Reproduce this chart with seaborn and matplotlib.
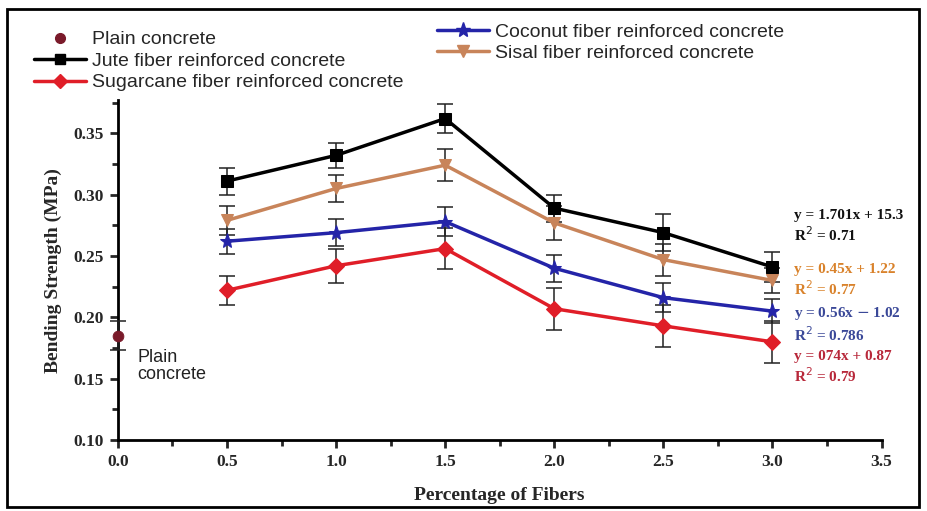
import numpy as np
import pandas as pd
import seaborn as sns
import matplotlib
matplotlib.use("Agg")
import matplotlib.pyplot as plt
from matplotlib.patches import Rectangle
from matplotlib.ticker import MultipleLocator
from matplotlib.lines import Line2D

fibers = [0.5, 1.0, 1.5, 2.0, 2.5, 3.0]
jute = [0.311, 0.332, 0.362, 0.289, 0.269, 0.241]
jute_err = [0.011, 0.010, 0.012, 0.011, 0.015, 0.012]
sisal = [0.279, 0.305, 0.324, 0.277, 0.247, 0.230]
sisal_err = [0.012, 0.011, 0.013, 0.014, 0.013, 0.010]
coconut = [0.262, 0.269, 0.278, 0.240, 0.216, 0.205]
coconut_err = [0.010, 0.011, 0.012, 0.011, 0.012, 0.010]
sugarcane = [0.222, 0.242, 0.256, 0.207, 0.193, 0.180]
sugarcane_err = [0.012, 0.014, 0.017, 0.017, 0.017, 0.017]
plain_x = [0.0]
plain = [0.185]
plain_err = [0.012]
x_ticks = [0.0, 0.5, 1.0, 1.5, 2.0, 2.5, 3.0, 3.5]
y_ticks = [0.10, 0.15, 0.20, 0.25, 0.30, 0.35]

names = ["Jute fiber reinforced concrete", "Sisal fiber reinforced concrete",
         "Coconut fiber reinforced concrete", "Sugarcane fiber reinforced concrete"]
values = [jute, sisal, coconut, sugarcane]
errors = [jute_err, sisal_err, coconut_err, sugarcane_err]
colors = ["#000000", "#c8845a", "#2424a8", "#e01e28"]
markers = ["s", "v", "*", "D"]
msizes = [9, 9, 11, 8]

rows = []
for n, v in zip(names, values):
    for x, y in zip(fibers, v):
        rows.append({"fiber": x, "strength": y, "series": n})
df = pd.DataFrame(rows)

sns.set_style("white")
plt.rcParams["font.family"] = ["DejaVu Sans"]

fig = plt.figure(figsize=(9.28, 5.11), dpi=100)
ax = fig.add_axes([0.127, 0.139, 0.823, 0.665])

for n, c, m, ms, e, v in reversed(list(zip(names, colors, markers, msizes, errors, values))):
    ax.errorbar(fibers, v, yerr=e, fmt="none", ecolor="#222222", elinewidth=1.1,
                capsize=6, capthick=1.1, zorder=2)
    sns.lineplot(data=df[df.series == n], x="fiber", y="strength", color=c,
                 marker=m, markersize=ms, markeredgecolor=c, linewidth=2.5,
                 ax=ax, zorder=3, legend=False)

ax.errorbar(plain_x, plain, yerr=plain_err, fmt="none", ecolor="#222222",
            elinewidth=1.1, capsize=6, capthick=1.1, zorder=4, clip_on=False)
sns.scatterplot(x=plain_x, y=plain, color="#7a1a2a", s=60, marker="o",
                edgecolor="#7a1a2a", ax=ax, zorder=5, legend=False, clip_on=False)

ax.set_xlim(0, 3.5)
ax.set_ylim(0.10, 0.377)
ax.set_xticks(x_ticks)
ax.set_xticklabels([f"{t:.1f}" for t in x_ticks])
ax.set_yticks(y_ticks)
ax.set_yticklabels([f"{t:.2f}" for t in y_ticks])
ax.xaxis.set_minor_locator(MultipleLocator(0.25))
ax.yaxis.set_minor_locator(MultipleLocator(0.025))
for s in ["top", "right"]:
    ax.spines[s].set_visible(False)
for s in ["left", "bottom"]:
    ax.spines[s].set_linewidth(2)
    ax.spines[s].set_color("black")
ax.tick_params(axis="both", which="major", length=6, width=2, direction="out",
               labelsize=12, pad=4, bottom=True, left=True)
ax.tick_params(axis="both", which="minor", length=4, width=2, direction="out",
               bottom=True, left=True)
for lab in ax.get_xticklabels() + ax.get_yticklabels():
    lab.set_fontfamily("Liberation Serif")
    lab.set_fontweight("bold")
    lab.set_fontsize(12.5)

ax.set_xlabel("Percentage of Fibers", fontfamily="Liberation Serif",
              fontweight="bold", fontsize=14, labelpad=12)
ax.set_ylabel("Bending Strength (MPa)", fontfamily="Liberation Serif",
              fontweight="bold", fontsize=14, labelpad=8)

ax.text(0.09, 0.160, "Plain\nconcrete", fontsize=13, color="#222222",
        fontfamily="Liberation Sans", va="center", ha="left", linespacing=1.0)

eqs = [("y = 1.701x + 15.3", "R$^2$ = 0.71", "#111111", 0.274),
       ("y = 0.45x + 1.22", "R$^2$ = 0.77", "#d9822b", 0.230),
       ("y = 0.56x $-$ 1.02", "R$^2$ = 0.786", "#3a4898", 0.194),
       ("y = 074x + 0.87", "R$^2$ = 0.79", "#b8283a", 0.159)]
for l1, l2, c, yy in eqs:
    ax.text(3.10, yy, l1 + "\n" + l2, color=c, fontsize=11, fontweight="bold",
            fontfamily="Liberation Serif", va="center", ha="left",
            linespacing=1.25, clip_on=False)

def handle(c, m, ms, line=True):
    return Line2D([], [], color=c, marker=m, markersize=ms, markeredgecolor=c,
                  linewidth=2.5 if line else 0)

leg1 = fig.legend([handle("#7a1a2a", "o", 7, False), handle(colors[0], "s", 7),
                   handle(colors[3], "D", 7)],
                  ["Plain concrete", names[0], names[3]],
                  loc="upper left", bbox_to_anchor=(0.028, 0.955), frameon=False,
                  prop={"family": "Liberation Sans", "size": 14},
                  handlelength=2.7, handletextpad=0.3, labelspacing=0.2,
                  borderaxespad=0)
leg2 = fig.legend([handle(colors[2], "*", 11), handle(colors[1], "v", 9)],
                  [names[2], names[1]],
                  loc="upper left", bbox_to_anchor=(0.462, 0.97), frameon=False,
                  prop={"family": "Liberation Sans", "size": 14},
                  handlelength=2.7, handletextpad=0.3, labelspacing=0.2,
                  borderaxespad=0)

fig.patches.append(Rectangle((0.008, 0.008), 0.982, 0.975, transform=fig.transFigure,
                             fill=False, edgecolor="black", linewidth=2))

fig.savefig("out.png", dpi=100)
